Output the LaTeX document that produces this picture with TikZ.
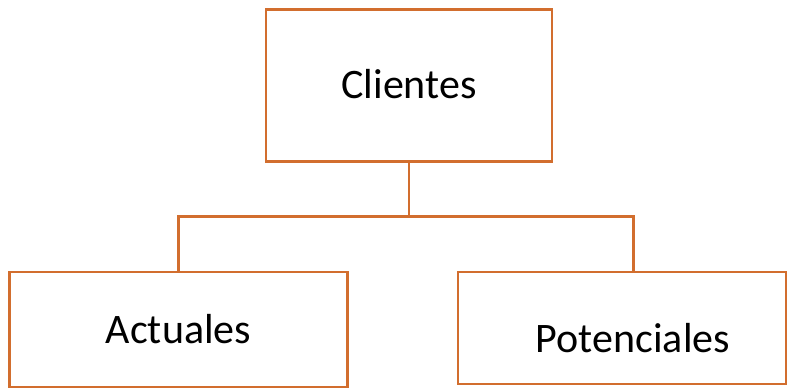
\documentclass[tikz,border=0pt]{standalone}
\usepackage{fontspec}
\setmainfont{Carlito}
\definecolor{boxorange}{RGB}{210,110,46}
\begin{document}
\begin{tikzpicture}[x=1pt,y=-1pt,
  box/.style={draw=boxorange,line width=2.5pt,fill=white,rectangle,inner sep=0pt},
  lbl/.style={font=\fontsize{42}{50}\selectfont,inner sep=0pt,anchor=base},
  link/.style={draw=boxorange,line width=2.5pt}]
\useasboundingbox (0,0) rectangle (798,389);
\node[box,minimum width=286pt,minimum height=152pt] (cli) at (409,85.5) {};
\node[box,minimum width=338pt,minimum height=115pt] (act) at (178.5,329.5) {};
\node[box,minimum width=328pt,minimum height=112pt] (pot) at (622,328) {};
\node[lbl] (cliT) at (409,98) {Clientes};
\node[lbl] (actT) at (178.5,343) {Actuales};
\node[lbl] (potT) at (633,352.5) {Potenciales};
\coordinate (mid) at (409,216.5);
\draw[link] (cli.south) -- (mid);
\draw[link] (act.north -| 178.5,0) |- (mid) -| (pot.north -| 633.5,0);
\end{tikzpicture}
\end{document}
